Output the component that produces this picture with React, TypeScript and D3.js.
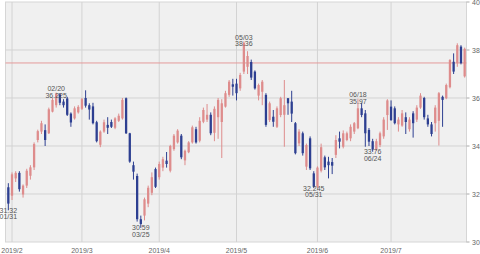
import React from "react";
import * as d3 from "d3";

// trading days (MM/DD, 2019)
const days = [
  "01/31",
  "02/01","02/04","02/05","02/06","02/07","02/08","02/11","02/12","02/13","02/14","02/15","02/19","02/20","02/21","02/22","02/25","02/26","02/27","02/28",
  "03/01","03/04","03/05","03/06","03/07","03/08","03/11","03/12","03/13","03/14","03/15","03/18","03/19","03/20","03/21","03/22","03/25","03/26","03/27","03/28","03/29",
  "04/01","04/02","04/03","04/04","04/05","04/08","04/09","04/10","04/11","04/12","04/15","04/16","04/17","04/18","04/22","04/23","04/24","04/25","04/26","04/29","04/30",
  "05/01","05/02","05/03","05/06","05/07","05/08","05/09","05/10","05/13","05/14","05/15","05/16","05/17","05/20","05/21","05/22","05/23","05/24","05/28","05/29","05/30","05/31",
  "06/03","06/04","06/05","06/06","06/07","06/10","06/11","06/12","06/13","06/14","06/17","06/18","06/19","06/20","06/21","06/24","06/25","06/26","06/27","06/28",
  "07/01","07/02","07/03","07/05","07/08","07/09","07/10","07/11","07/12","07/15","07/16","07/17","07/18","07/19","07/22","07/23","07/24","07/25","07/26","07/29","07/30",
];

const open = [
  32.28,
  31.93,32.65,32.88,31.98,32.35,32.76,33.11,34.25,34.60,34.66,34.53,35.43,35.70,36.15,35.85,35.98,35.35,35.15,35.40,
  35.55,36.00,35.70,35.65,34.99,34.05,34.60,34.88,35.00,34.76,35.05,35.15,35.99,34.53,33.20,32.75,30.95,31.10,31.60,32.05,33.04,
  32.70,33.10,33.39,32.97,33.87,34.15,34.43,33.40,33.74,34.15,34.70,34.22,35.01,35.10,35.30,34.55,35.20,35.00,35.64,36.13,36.57,
  36.60,36.40,37.10,37.30,37.50,37.10,36.10,36.26,36.13,35.08,35.22,34.80,35.29,35.30,35.99,35.85,34.95,34.11,34.53,33.14,34.32,32.86,
  32.30,32.97,33.53,33.35,33.33,33.63,34.32,33.97,34.25,34.32,34.60,34.74,35.57,35.36,34.67,34.20,33.85,34.04,34.40,35.29,
  35.64,35.57,34.90,34.85,35.20,34.70,35.36,35.10,35.60,36.00,35.15,34.90,34.95,35.05,36.05,35.99,36.45,37.51,37.45,38.14,36.90,
];
const high = [
  32.45,
  32.90,32.95,32.95,32.40,33.05,33.20,34.15,34.68,35.05,34.90,35.60,36.00,36.225,36.20,35.95,36.05,35.40,35.65,35.70,
  36.00,36.32,35.78,35.80,35.05,34.65,35.10,35.20,35.10,35.20,35.35,36.00,36.02,34.55,33.35,32.85,31.10,31.85,32.35,32.90,33.10,
  33.35,33.55,33.75,34.05,34.50,34.70,34.50,33.85,34.20,34.85,34.80,35.20,35.60,35.75,35.40,35.65,36.00,35.95,36.30,36.75,36.80,
  36.80,37.05,38.36,37.95,37.60,37.15,36.60,36.75,36.20,35.85,35.50,35.65,36.05,36.75,36.00,36.30,35.00,34.70,34.60,34.10,34.40,32.95,
  33.15,34.10,33.60,33.55,33.50,34.45,34.60,34.65,34.60,34.90,35.00,35.97,35.80,35.50,34.75,34.30,34.30,34.60,35.20,35.95,
  35.90,35.65,35.20,35.50,35.40,35.20,35.45,35.70,36.20,36.05,35.30,35.00,35.70,36.25,36.10,36.60,37.62,37.86,38.28,38.20,38.10,
];
const low = [
  31.32,
  31.75,32.50,32.10,31.85,32.25,32.60,33.00,34.15,34.50,34.00,34.50,35.40,35.60,35.70,35.60,35.25,34.80,35.10,35.35,
  35.50,35.60,35.10,34.90,34.15,33.95,34.55,34.50,34.75,34.70,35.00,35.10,34.50,33.30,32.60,30.85,30.59,30.90,31.45,31.95,32.25,
  32.60,32.95,33.10,32.90,33.80,34.10,33.45,33.20,33.70,34.10,34.10,34.15,34.95,35.00,34.45,34.20,34.30,33.50,35.60,36.05,36.10,
  35.90,36.30,37.00,37.00,36.75,36.35,35.90,35.70,34.80,35.00,34.80,34.75,35.20,33.97,35.30,35.00,33.65,34.00,33.60,33.00,33.00,32.245,
  32.25,32.90,33.00,32.65,32.83,33.50,33.90,33.90,34.20,34.20,34.50,34.70,35.20,33.97,34.00,33.76,33.80,33.95,34.30,34.67,
  35.05,34.90,34.60,34.80,34.50,34.60,34.35,35.00,35.55,35.10,34.80,34.40,34.60,34.02,34.80,35.95,36.40,37.00,37.30,37.40,36.85,
];
const close = [
  31.60,
  32.82,32.88,32.20,32.35,32.97,33.11,34.08,34.62,34.95,34.25,35.53,35.92,36.18,35.80,35.70,35.30,34.98,35.57,35.63,
  35.95,35.68,35.52,34.95,34.20,34.60,34.99,34.76,34.80,35.15,35.26,35.92,34.53,33.35,32.93,30.95,30.75,31.78,32.26,32.70,32.30,
  33.25,33.45,33.25,34.00,34.43,34.64,33.53,33.80,34.15,34.78,34.15,35.05,35.50,35.30,34.53,35.55,35.92,35.78,36.20,36.68,36.47,
  36.20,36.96,38.30,37.75,36.85,36.40,36.54,36.68,34.88,35.78,35.01,35.57,35.99,35.70,35.78,35.35,33.70,34.60,33.70,34.04,33.07,32.30,
  33.10,33.95,33.11,33.20,33.18,34.25,34.18,34.53,34.53,34.80,34.95,35.57,35.29,34.53,34.18,33.85,34.20,34.53,35.10,35.90,
  35.08,34.95,35.10,35.36,35.00,35.10,34.95,35.60,36.10,35.20,34.90,34.50,35.60,36.20,35.92,36.54,37.58,37.10,38.20,37.45,38.05,
];

const monthStarts = ["02/01", "03/01", "04/01", "05/01", "06/03", "07/01"];
const monthLabels = ["2019/2", "2019/3", "2019/4", "2019/5", "2019/6", "2019/7"];
const yTicks = [30, 32, 34, 36, 38, 40];
const refLevel = 37.46;
const highMarks = ["02/20", "05/03", "06/18"];
const lowMarks = ["01/31", "03/25", "05/31", "06/24"];

const W = 480;
const H = 254;
const FONT = "'Liberation Sans', Arial, sans-serif";
const UP = "#de8c8c";
const DOWN = "#2d3f91";

export default function App() {
  const x = d3.scaleBand<string>().domain(days).range([6.5, 466.5]).padding(0);
  const y = d3.scaleLinear().domain([30, 40]).range([242, 2]);
  const bw = x.bandwidth();
  const cx = (d: string) => (x(d) as number) + bw / 2;
  const [x0, x1] = x.range();
  const [yb, yt] = y.range();
  const bodyW = bw * 0.62;

  return (
    <svg
      width={W}
      height={H}
      style={{ position: "absolute", left: 0, top: 0, background: "#fff" }}
      fontFamily={FONT}
    >
      <rect x={x0 - 1} y={yt} width={x1 - x0 + 1} height={yb - yt} fill="#f0f0f0" stroke="#d6d6d6" strokeWidth={1} />
      {yTicks.slice(1, -1).map((t) => (
        <line key={"gy" + t} x1={x0 - 1} x2={x1} y1={y(t)} y2={y(t)} stroke="#d3d3d3" strokeWidth={1} />
      ))}
      {monthStarts.map((m) => (
        <line key={"gx" + m} x1={cx(m)} x2={cx(m)} y1={yt} y2={yb} stroke="#d3d3d3" strokeWidth={1} />
      ))}
      <line x1={x0 - 1} x2={x1} y1={y(refLevel)} y2={y(refLevel)} stroke="#e49a9a" strokeWidth={1} />
      {days.map((d, i) => {
        const up = close[i] >= open[i];
        const col = up ? UP : DOWN;
        const top = y(Math.max(open[i], close[i]));
        const bot = y(Math.min(open[i], close[i]));
        return (
          <g key={d}>
            <line x1={cx(d)} x2={cx(d)} y1={y(high[i])} y2={y(low[i])} stroke={col} strokeWidth={1} />
            <rect x={cx(d) - bodyW / 2} y={top} width={bodyW} height={Math.max(1, bot - top)} fill={col} />
          </g>
        );
      })}
      {yTicks.map((t) => (
        <g key={"yt" + t}>
          <line x1={x1} x2={x1 + 3} y1={y(t)} y2={y(t)} stroke="#aaa" />
          <text x={x1 + 5.5} y={y(t) + 2.5} fontSize={7} fill="#666">
            {t}
          </text>
        </g>
      ))}
      {monthStarts.map((m, i) => (
        <text key={"xl" + m} x={cx(m)} y={253} fontSize={7} fill="#666" textAnchor="middle">
          {monthLabels[i]}
        </text>
      ))}
      {highMarks.map((m) => {
        const i = days.indexOf(m);
        const yy = y(high[i]);
        return (
          <g key={"hm" + m} fontSize={7} fill="#555" textAnchor="middle">
            <text x={cx(m)} y={yy - 1.5}>{m}</text>
            <text x={cx(m)} y={yy + 5}>{String(high[i])}</text>
          </g>
        );
      })}
      {lowMarks.map((m) => {
        const i = days.indexOf(m);
        const yy = y(low[i]);
        return (
          <g key={"lm" + m} fontSize={7} fill="#555" textAnchor="middle">
            <text x={cx(m)} y={yy + 2.5}>{String(low[i])}</text>
            <text x={cx(m)} y={yy + 9}>{m}</text>
          </g>
        );
      })}
    </svg>
  );
}
